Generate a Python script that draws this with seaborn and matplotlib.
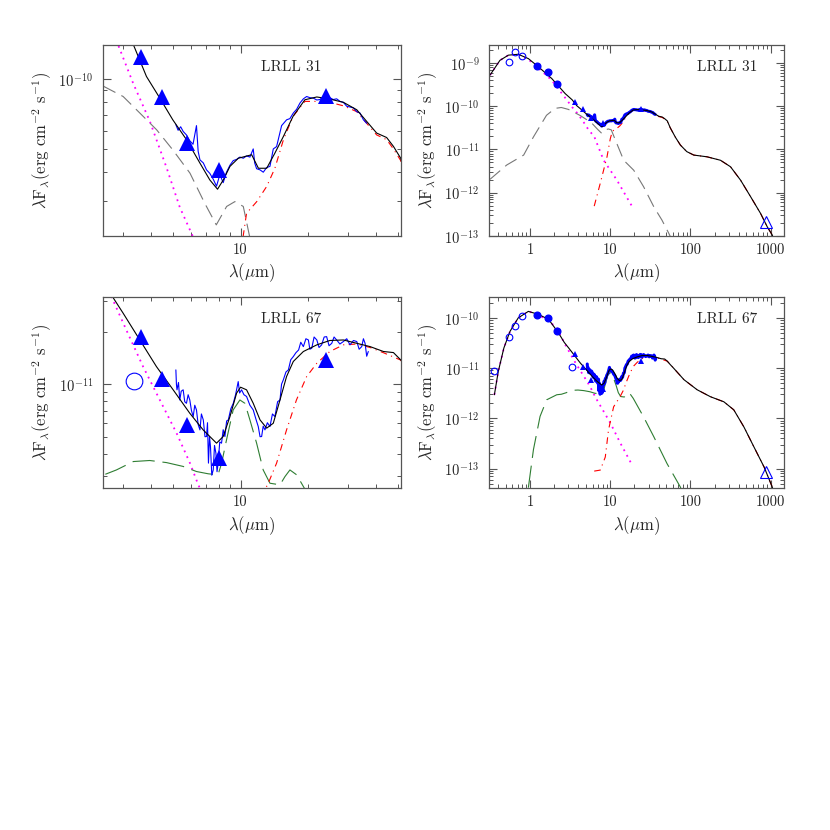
import numpy as np
import matplotlib
matplotlib.use("Agg")
import matplotlib.pyplot as plt
import matplotlib.ticker as mticker
import seaborn as sns

# ------ DATA (log10 of lambda*F_lambda, erg cm^-2 s^-1) ------ #

# LRLL 31 model components
tot31_wl = [0.316, 0.42, 0.535, 0.71, 0.95, 1.27, 1.86, 2.74, 3.34, 3.82, 4.38, 5.0, 5.75, 6.6,
            7.3, 7.9, 8.38, 8.97, 9.77, 11.2, 12.0, 13.06, 14.2, 15.5, 17.1, 19.3, 21.8, 24.9,
            28.6, 32.8, 36.3, 40.2, 44.5, 47.7, 51.4, 56, 65, 75, 90, 110, 161, 237, 316, 422,
            562, 750, 909, 1050, 1200]
tot31_lf = [-9.28, -8.94, -8.82, -8.80, -8.90, -9.09, -9.36, -9.71, -9.852, -9.989, -10.082,
            -10.175, -10.26, -10.361, -10.433, -10.473, -10.433, -10.375, -10.34, -10.325,
            -10.383, -10.383, -10.318, -10.246, -10.16, -10.089, -10.077, -10.086, -10.10,
            -10.132, -10.182, -10.232, -10.251, -10.289, -10.34, -10.50, -10.72, -10.90, -11.05,
            -11.13, -11.17, -11.25, -11.40, -11.71, -12.09, -12.48, -12.79, -12.98, -13.3]

phot31_wl = [0.316, 0.42, 0.535, 0.71, 0.95, 1.27, 1.86, 2.72, 3.34, 3.95, 4.69, 5.37, 6.3,
             8.26, 12.1, 17.8, 18.5]
phot31_lf = [-9.28, -8.94, -8.82, -8.80, -8.92, -9.12, -9.40, -9.80, -10.02, -10.18, -10.38,
             -10.55, -10.70, -11.25, -11.71, -12.25, -12.30]

env31_wl = [0.316, 0.51, 0.83, 1.1, 1.6, 2.05, 2.45, 3.01, 3.57, 4.24, 5.0, 5.96, 6.93, 7.8,
            8.67, 9.44, 10.28, 11.38, 14.7, 19.6, 26, 35, 44, 53.7, 59]
env31_lf = [-11.69, -11.36, -11.13, -10.71, -10.21, -10.05, -10.03, -10.075, -10.146, -10.218,
            -10.304, -10.404, -10.533, -10.626, -10.547, -10.526, -10.547, -10.75, -11.25,
            -11.48, -11.86, -12.33, -12.63, -12.94, -13.1]

disk31_wl = [6.3, 7.5, 9.1, 10.0, 10.63, 11.8, 13.06, 14.2, 15.5, 17.1, 19.3, 21.8, 24.9, 28.6,
             32.8, 36.3, 40.2, 44.5, 47.7, 51.4, 56, 65, 75, 90, 110, 161, 237, 316, 422, 562,
             750, 909, 1050, 1200]
disk31_lf = [-12.31, -11.78, -11.17, -10.75, -10.576, -10.526, -10.461, -10.383, -10.26, -10.16,
             -10.096, -10.096, -10.10, -10.115, -10.14, -10.19, -10.24, -10.26, -10.30, -10.35,
             -10.50, -10.72, -10.90, -11.05, -11.13, -11.17, -11.25, -11.40, -11.71, -12.09,
             -12.48, -12.79, -12.98, -13.3]

# LRLL 31 IRS spectrum
irs31_wl = [5.16, 5.28, 5.42, 5.56, 5.75, 5.95, 6.15, 6.37, 6.48, 6.60, 6.83, 7.06, 7.3, 7.56,
            7.82, 8.09, 8.37, 8.66, 8.97, 9.28, 9.6, 9.93, 10.28, 10.63, 11.0, 11.38, 11.55,
            11.78, 12.2, 12.61, 13.05, 13.5, 13.97, 14.45, 15.21, 16.01, 16.55, 17.14, 17.73,
            18.35, 19.0, 19.65, 20.3, 21.04, 21.8, 22.52, 23.3, 24.1, 24.9, 25.8, 26.7, 27.64,
            28.6, 29.6, 30.6, 31.7, 32.8, 33.9, 35.1, 36.3]
irs31_lf = [-10.196, -10.22, -10.205, -10.225, -10.24, -10.265, -10.28, -10.20, -10.31, -10.347,
            -10.36, -10.39, -10.405, -10.43, -10.46, -10.41, -10.445, -10.40, -10.37, -10.35,
            -10.345, -10.335, -10.34, -10.33, -10.335, -10.30, -10.36, -10.385, -10.39, -10.40,
            -10.38, -10.375, -10.30, -10.29, -10.20, -10.175, -10.17, -10.146, -10.13, -10.103,
            -10.085, -10.075, -10.08, -10.082, -10.09, -10.088, -10.075, -10.067, -10.08,
            -10.088, -10.085, -10.096, -10.10, -10.117, -10.12, -10.124, -10.14, -10.146,
            -10.175, -10.19]

# LRLL 31 photometry
opt31_wl = [0.546, 0.64, 0.79]
opt31_lf = [-8.98, -8.75, -8.84]
nir31_wl = [1.235, 1.662, 2.159]
nir31_lf = [-9.07, -9.21, -9.49]
ir31_wl = [3.6, 4.5, 5.8, 8.0, 24.0]
ir31_lf = [-9.904, -10.075, -10.274, -10.391, -10.074]
mm31_wl = [870]
mm31_lf = [-12.67]

# LRLL 67 model components
tot67_wl = [0.358, 0.40, 0.47, 0.56, 0.71, 0.95, 1.27, 1.7, 2.26, 2.67, 3.01, 3.57, 4.23, 5.02,
            5.95, 6.82, 7.82, 8.37, 8.97, 9.6, 10.0, 10.63, 11.38, 12.2, 13.06, 13.97, 14.96,
            16.0, 17.14, 19.0, 21.8, 24.9, 28.6, 32.8, 37.6, 43.1, 47.7, 51.4, 56, 60, 83, 121,
            178, 261, 347, 464, 620, 830, 1050, 1150]
tot67_lf = [-11.53, -11.07, -10.6, -10.27, -10.0, -9.87, -9.93, -10.03, -10.3, -10.49, -10.594,
            -10.747, -10.899, -11.032, -11.166, -11.261, -11.337, -11.299, -11.185, -11.051,
            -11.017, -11.032, -11.109, -11.204, -11.251, -11.223, -11.09, -10.956, -10.87,
            -10.813, -10.775, -10.75, -10.747, -10.766, -10.785, -10.813, -10.819, -10.861,
            -10.93, -10.98, -11.23, -11.43, -11.57, -11.67, -11.83, -12.17, -12.57, -12.97,
            -13.37, -13.6]

phot67_wl = [0.358, 0.40, 0.47, 0.56, 0.71, 0.95, 1.27, 1.7, 2.15, 2.67, 3.11, 3.69, 4.38, 5.2,
             5.96, 6.49, 10.0, 13.3, 18.1]
phot67_lf = [-11.53, -11.07, -10.6, -10.27, -10.0, -9.87, -9.94, -10.06, -10.2, -10.499,
             -10.69, -10.899, -11.09, -11.28, -11.451, -11.575, -12.09, -12.488, -12.886]

env67_wl = [0.95, 1.1, 1.33, 1.61, 2.15, 2.45, 2.81, 3.34, 3.95, 4.69, 5.56, 6.37, 7.18, 7.94,
            8.24, 8.66, 9.27, 9.93, 10.45, 11.0, 11.78, 12.6, 13.5, 14.96, 15.74, 16.56, 17.74,
            19.3, 26, 35, 51, 75, 80]
env67_lf = [-13.38, -12.62, -11.96, -11.63, -11.53, -11.52, -11.49, -11.442, -11.436, -11.448,
            -11.47, -11.499, -11.512, -11.518, -11.451, -11.318, -11.147, -11.09, -11.109,
            -11.204, -11.337, -11.49, -11.566, -11.575, -11.528, -11.49, -11.518, -11.60,
            -11.97, -12.37, -12.9, -13.37, -13.5]

disk67_wl = [6.3, 7.5, 8.66, 9.5, 11.0, 13.27, 14.45, 16.0, 17.7, 19.65, 21.8, 24.9, 28.6, 32.8,
             37.6, 43.1, 51.4, 56, 60, 83, 121, 178, 261, 347, 464, 620, 830, 1050, 1150]
disk67_lf = [-13.05, -13.03, -12.77, -12.23, -11.77, -11.566, -11.451, -11.261, -11.09, -10.956,
             -10.88, -10.813, -10.775, -10.77, -10.79, -10.82, -10.862, -10.93, -10.98, -11.23,
             -11.43, -11.57, -11.67, -11.83, -12.17, -12.57, -12.97, -13.37, -13.6]

# LRLL 67 IRS spectrum (noisy)
irs67_wl = [5.16, 5.19, 5.22, 5.3, 5.37, 5.45, 5.56, 5.65, 5.75, 5.85, 5.95, 6.05, 6.16, 6.26,
            6.37, 6.48, 6.60, 6.7, 6.83, 6.95, 7.06, 7.13, 7.2, 7.28, 7.35, 7.45, 7.56, 7.66,
            7.77, 7.86, 7.95, 8.08, 8.23, 8.37, 8.52, 8.67, 8.82, 9.05, 9.28, 9.5, 9.76, 9.9,
            10.1, 10.35, 10.63, 11.0, 11.38, 11.7, 11.98, 12.2, 12.4, 12.6, 12.83, 13.15, 13.5,
            13.85, 14.2, 14.6, 14.96, 15.2, 15.48, 15.9, 16.3, 16.7, 17.14, 17.6, 18.1, 18.5,
            19.0, 19.5, 20.0, 20.3, 20.7, 21.2, 21.8, 22.3, 22.9, 23.5, 24.1, 24.7, 25.4, 26.0,
            26.7, 27.6, 28.6, 29.6, 30.6, 31.7, 32.8, 33.6, 34.5, 35.1, 35.7, 36.3, 36.9]
irs67_lf = [-10.918, -11.00, -11.032, -10.99, -11.09, -11.04, -11.032, -11.10, -11.109, -11.06,
            -11.09, -11.15, -11.185, -11.12, -11.147, -11.23, -11.261, -11.17, -11.204, -11.30,
            -11.299, -11.22, -11.451, -11.30, -11.356, -11.52, -11.49, -11.35, -11.394, -11.50,
            -11.451, -11.33, -11.337, -11.26, -11.299, -11.21, -11.204, -11.14, -11.109, -11.06,
            -10.985, -11.05, -11.032, -11.06, -11.07, -11.12, -11.147, -11.20, -11.242, -11.30,
            -11.299, -11.24, -11.261, -11.22, -11.242, -11.17, -11.185, -11.10, -11.09, -11.00,
            -10.975, -10.93, -10.918, -10.86, -10.842, -10.82, -10.804, -10.76, -10.785, -10.74,
            -10.747, -10.80, -10.794, -10.73, -10.747, -10.79, -10.775, -10.73, -10.728, -10.78,
            -10.766, -10.73, -10.747, -10.77, -10.756, -10.74, -10.775, -10.75, -10.756, -10.80,
            -10.785, -10.74, -10.766, -10.84, -10.813]

# LRLL 67 photometry
opt67_wl = [0.358, 0.546, 0.64, 0.79, 3.36]
opt67_lf = [-11.05, -10.38, -10.17, -9.97, -10.979]
nir67_wl = [1.235, 1.662, 2.159]
nir67_lf = [-9.95, -10.0, -10.27]
ir67_wl = [3.6, 4.5, 5.8, 8.0, 24.0]
ir67_lf = [-10.728, -10.971, -11.232, -11.423, -10.861]
mm67_wl = [870]
mm67_lf = [-13.07]

# ------ STYLE ------ #
sns.set_style("ticks")
plt.rcParams["font.family"] = "serif"
plt.rcParams["font.serif"] = ["cmr10", "DejaVu Serif"]
plt.rcParams["mathtext.fontset"] = "cm"
plt.rcParams["axes.unicode_minus"] = False

FRAME = "#555555"
GREY = "#777777"
GREEN = "#2e7d32"


def curve(ax, wl, lf, **kw):
    sns.lineplot(x=wl, y=10 ** np.array(lf), ax=ax, sort=False, estimator=None,
                 legend=False, **kw)


def pow10(v, pos):
    return r"$10^{%d}$" % round(np.log10(v))


def plain(v, pos):
    return "%g" % v


def log_ticks(lo, hi):
    # only ticks that fall inside the view, so no hidden labels are made
    d0, d1 = int(np.floor(np.log10(lo))), int(np.ceil(np.log10(hi)))
    major = [10.0 ** d for d in range(d0, d1 + 1) if lo <= 10.0 ** d <= hi]
    minor = [m * 10.0 ** d for d in range(d0, d1 + 1) for m in range(2, 10)
             if lo <= m * 10.0 ** d <= hi]
    return major, minor


def setup(ax, xlim, ylim):
    ax.set_xscale("log")
    ax.set_yscale("log")
    for axis, lim, fmt in [(ax.xaxis, xlim, plain), (ax.yaxis, ylim, pow10)]:
        major, minor = log_ticks(*lim)
        axis.set_major_locator(mticker.FixedLocator(major))
        axis.set_minor_locator(mticker.FixedLocator(minor))
        axis.set_major_formatter(mticker.FuncFormatter(fmt))
        axis.set_minor_formatter(mticker.NullFormatter())
    ax.set_xlim(*xlim)
    ax.set_ylim(*ylim)
    ax.tick_params(which="both", direction="in", top=True, right=True, color=FRAME)
    ax.tick_params(which="major", length=6, width=0.8)
    ax.tick_params(which="minor", length=3, width=0.7)
    ax.tick_params(axis="x", labelsize=10.5, pad=5.5)
    ax.tick_params(axis="y", labelsize=10.5, pad=7)
    for s in ax.spines.values():
        s.set_color(FRAME)
        s.set_linewidth(0.9)
    ax.set_xlabel(r"$\lambda(\mu$m)", fontsize=12)
    ax.set_ylabel(r"$\lambda$F$_{\lambda}$(erg cm$^{-2}$ s$^{-1}$)", fontsize=12)
    ax.xaxis.set_label_coords(0.5, -0.135)
    ax.yaxis.set_label_coords(-0.165, 0.5)


def draw(ax, full, tot, phot, env, env_color, env_dash, disk, irs, opt, nir, ir, mm, name):
    curve(ax, *phot, color="magenta", lw=1.3, linestyle=(0, (1, 2.5)))
    curve(ax, *env, color=env_color, lw=0.8, linestyle=(0, env_dash))
    curve(ax, *disk, color="red", lw=0.8, linestyle=(0, (6, 4, 1, 4)))
    curve(ax, *irs, color="blue", lw=2.2 if full else 0.8)
    curve(ax, *tot, color="black", lw=0.8)
    big = 12 if not full else 4.8
    tri = 12 if not full else 4.0
    ax.plot(opt[0], 10 ** np.array(opt[1]), "o", ms=big, mfc="none", mec="blue", mew=0.8)
    if full:
        ax.plot(nir[0], 10 ** np.array(nir[1]), "o", ms=big, color="blue")
        ax.plot(mm[0], 10 ** np.array(mm[1]), "^", ms=8.5, mfc="none", mec="blue", mew=0.8)
    ax.plot(ir[0], 10 ** np.array(ir[1]), "^", ms=tri, color="blue", mew=0)
    pos = (0.807, 0.885) if full else (0.633, 0.885)
    ax.text(pos[0], pos[1], name, transform=ax.transAxes, ha="center", va="center",
            fontsize=11)


fig = plt.figure(figsize=(8.3, 8.3), dpi=100)
ax_tl = fig.add_axes([0.1241, 0.7157, 0.3587, 0.2301])
ax_tr = fig.add_axes([0.5892, 0.7157, 0.3554, 0.2301])
ax_bl = fig.add_axes([0.1241, 0.412, 0.3587, 0.2301])
ax_br = fig.add_axes([0.5892, 0.412, 0.3554, 0.2301])

lims = {ax_tl: ((2.45, 51.4), (2.12e-11, 1.40e-10)),
        ax_tr: ((0.307, 1470), (1e-13, 2.6e-9)),
        ax_bl: ((2.45, 51.4), (2.55e-12, 3.15e-11)),
        ax_br: ((0.307, 1470), (4.1e-14, 2.6e-10))}
for ax, (xl, yl) in lims.items():
    setup(ax, xl, yl)

s31 = dict(tot=(tot31_wl, tot31_lf), phot=(phot31_wl, phot31_lf), env=(env31_wl, env31_lf),
           env_color=GREY, env_dash=(12, 6), disk=(disk31_wl, disk31_lf),
           irs=(irs31_wl, irs31_lf), ir=(ir31_wl, ir31_lf), mm=(mm31_wl, mm31_lf),
           name="LRLL 31")
s67 = dict(tot=(tot67_wl, tot67_lf), phot=(phot67_wl, phot67_lf), env=(env67_wl, env67_lf),
           env_color=GREEN, env_dash=(20, 7), disk=(disk67_wl, disk67_lf),
           irs=(irs67_wl, irs67_lf), ir=(ir67_wl, ir67_lf), mm=(mm67_wl, mm67_lf),
           name="LRLL 67")

draw(ax_tl, False, opt=([], []), nir=([], []), **s31)
draw(ax_tr, True, opt=(opt31_wl, opt31_lf), nir=(nir31_wl, nir31_lf), **s31)
draw(ax_bl, False, opt=([opt67_wl[-1]], [opt67_lf[-1]]), nir=([], []), **s67)
draw(ax_br, True, opt=(opt67_wl, opt67_lf), nir=(nir67_wl, nir67_lf), **s67)

# seaborn may rescale, so pin the view again
for ax, (xl, yl) in lims.items():
    ax.set_xlim(*xl)
    ax.set_ylim(*yl)

fig.savefig("out.png", dpi=100)
